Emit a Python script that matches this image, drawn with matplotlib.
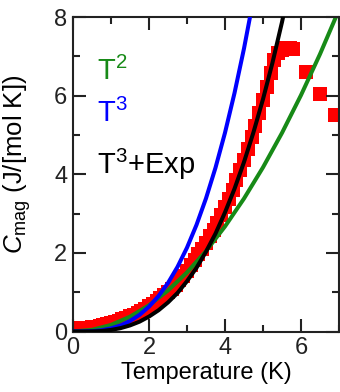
import matplotlib
matplotlib.use("Agg")
import matplotlib.pyplot as plt
from matplotlib.ticker import MultipleLocator

plt.rcParams['font.family'] = ['Liberation Sans', 'DejaVu Sans']
plt.rcParams['mathtext.fontset'] = 'custom'
plt.rcParams['mathtext.rm'] = 'Liberation Sans'
plt.rcParams['mathtext.it'] = 'Liberation Sans:italic'

# measured data (red squares)
T_data = [0.2, 0.3, 0.4, 0.5, 0.6, 0.7, 0.8, 0.9, 1.0, 1.1, 1.2, 1.3, 1.4, 1.5,
          1.6, 1.7, 1.8, 1.9, 2.0, 2.1, 2.2, 2.3, 2.4, 2.5, 2.6, 2.7, 2.8, 2.9,
          3.0, 3.1, 3.2, 3.3, 3.4, 3.5, 3.6, 3.7, 3.8, 3.9, 4.0, 4.1, 4.2, 4.3,
          4.4, 4.5, 4.6, 4.7, 4.8, 4.9, 5.0, 5.1, 5.2, 5.3, 5.4, 5.5, 5.6, 5.7,
          5.8, 6.14, 6.5, 6.9]
C_data = [0.08, 0.09, 0.10, 0.11, 0.12, 0.14, 0.16, 0.18, 0.21, 0.24, 0.27, 0.31,
          0.35, 0.39, 0.43, 0.48, 0.53, 0.58, 0.64, 0.70, 0.77, 0.84, 0.92, 1.00,
          1.09, 1.19, 1.30, 1.42, 1.55, 1.68, 1.82, 1.96, 2.11, 2.26, 2.42, 2.59,
          2.77, 2.96, 3.16, 3.38, 3.61, 3.85, 4.10, 4.37, 4.65, 4.94, 5.24, 5.56,
          5.89, 6.23, 6.58, 6.90, 7.08, 7.17, 7.20, 7.20, 7.18, 6.60, 6.04, 5.50]

# T^2 fit (green)
T_sq = [0.0, 0.5, 1.0, 1.5, 2.0, 2.5, 3.0, 3.5, 4.0, 4.5, 5.0, 5.5, 6.0, 6.5, 7.0]
C_sq = [0.0, 0.042, 0.167, 0.376, 0.668, 1.044, 1.503, 2.046, 2.672, 3.382, 4.175,
        5.052, 6.012, 7.056, 8.183]

# T^3 fit (blue)
T_cu = [0.0, 0.25, 0.5, 0.75, 1.0, 1.25, 1.5, 1.75, 2.0, 2.25, 2.5, 2.75, 3.0,
        3.25, 3.5, 3.75, 4.0, 4.25, 4.5, 4.75]
C_cu = [0.0, 0.0012, 0.0099, 0.0333, 0.079, 0.154, 0.267, 0.423, 0.632, 0.900,
        1.234, 1.643, 2.133, 2.712, 3.387, 4.166, 5.056, 6.065, 7.199, 8.466]

# T^3 + Exp fit (black)
T_ex = [0.0, 0.25, 0.5, 0.75, 1.0, 1.25, 1.5, 1.75, 2.0, 2.25, 2.5, 2.75, 3.0,
        3.25, 3.5, 3.75, 4.0, 4.25, 4.5, 4.75, 5.0, 5.25, 5.5, 5.75]
C_ex = [0.0, 0.0, 0.003, 0.013, 0.04, 0.085, 0.155, 0.25, 0.38, 0.54, 0.74, 0.98,
        1.28, 1.62, 2.03, 2.49, 3.03, 3.63, 4.31, 5.07, 5.91, 6.84, 7.87, 9.0]

legend_labels = [r'T$^2$', r'T$^3$', r'T$^3$+Exp']
legend_colors = ['#178a17', '#0000ff', '#000000']

fig = plt.figure(figsize=(3.4, 3.92), dpi=100)
ax = fig.add_axes([73/340, 60.5/392, 266/340, 314.5/392])

ax.plot(T_data, C_data, 's', color='#ff0000', markersize=9.4, markeredgewidth=0,
        zorder=1)
ax.plot(T_sq, C_sq, '-', color=legend_colors[0], lw=2.9, zorder=2)
ax.plot(T_cu, C_cu, '-', color=legend_colors[1], lw=2.9, zorder=3)
ax.plot(T_ex, C_ex, '-', color=legend_colors[2], lw=2.9, zorder=4)

ax.set_xlim(0, 7)
ax.set_ylim(0, 8)
ax.xaxis.set_major_locator(MultipleLocator(2))
ax.xaxis.set_minor_locator(MultipleLocator(1))
ax.yaxis.set_major_locator(MultipleLocator(2))
ax.yaxis.set_minor_locator(MultipleLocator(1))
ax.tick_params(which='both', direction='in', top=True, right=True,
               labelsize=17, colors='#222222', width=1.5, pad=4)
ax.tick_params(which='major', length=9.5)
ax.tick_params(which='minor', length=5)
for s in ax.spines.values():
    s.set_linewidth(1.5)
    s.set_color('#222222')

ax.set_xlabel('Temperature (K)', fontsize=17, labelpad=2)
fig.text(17/340, 1 - 164/392, r'$C_{\rm mag}$ (J/[mol K])', fontsize=18.5,
         rotation=90, ha='center', va='center')

ys = [6.4, 5.33, 4.0]
for lab, c, y in zip(legend_labels, legend_colors, ys):
    ax.text(0.63, y, lab, color=c, fontsize=21, ha='left', va='baseline',
            zorder=5)

fig.savefig('out.png', dpi=100)
